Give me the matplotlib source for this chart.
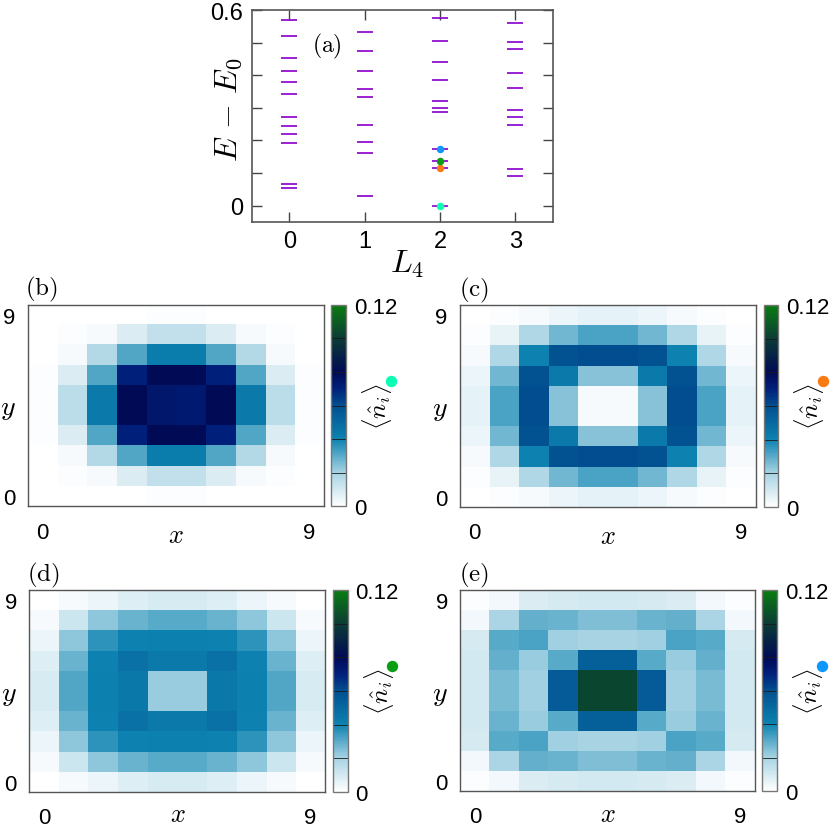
import numpy as np
import matplotlib
matplotlib.use('Agg')
import matplotlib.pyplot as plt
from matplotlib.colors import LinearSegmentedColormap, Normalize
from matplotlib.cm import ScalarMappable
from matplotlib.lines import Line2D

plt.rcParams['font.family'] = ['Liberation Sans', 'DejaVu Sans']
plt.rcParams['mathtext.fontset'] = 'cm'

# ------------------ data ------------------
L4_VALUES = [0, 1, 2, 3]
LEVELS_L0 = [0.5705, 0.520, 0.4515, 0.4115, 0.3795, 0.342, 0.2710, 0.2455, 0.2190, 0.1920, 0.0665, 0.0545]
LEVELS_L1 = [0.5325, 0.4735, 0.414, 0.359, 0.3345, 0.2485, 0.195, 0.1610, 0.0295]
LEVELS_L2 = [0.5745, 0.5060, 0.4400, 0.3855, 0.3220, 0.3000, 0.2865, 0.1730, 0.1365, 0.1170, 0.0]
LEVELS_L3 = [0.5605, 0.5010, 0.4810, 0.4080, 0.3600, 0.2945, 0.2720, 0.2485, 0.1125, 0.0900]

STATE_L4 = [2, 2, 2, 2]
STATE_E = [0.0, 0.1170, 0.1365, 0.1730]
STATE_COLORS = ['#0dfcb4', '#f97a12', '#0a9e12', '#0f98fb']

DENS_B = [
    [.0002, .0002, .0003, .0004, .0006, .0006, .0004, .0003, .0002, .0002],
    [.0002, .0006, .0020, .0080, .0140, .0140, .0080, .0020, .0006, .0002],
    [.0003, .0020, .0170, .0310, .0420, .0420, .0310, .0170, .0020, .0003],
    [.0005, .0080, .0310, .0700, .0800, .0800, .0700, .0310, .0080, .0005],
    [.0006, .0150, .0430, .0800, .0740, .0730, .0800, .0430, .0150, .0006],
    [.0006, .0150, .0430, .0800, .0740, .0730, .0800, .0430, .0150, .0006],
    [.0005, .0080, .0310, .0700, .0800, .0800, .0700, .0310, .0080, .0005],
    [.0003, .0020, .0170, .0310, .0420, .0420, .0310, .0170, .0020, .0003],
    [.0002, .0006, .0020, .0080, .0140, .0140, .0080, .0020, .0006, .0002],
    [.0002, .0002, .0003, .0004, .0006, .0006, .0004, .0003, .0002, .0002],
]
DENS_C = [
    [.0002, .0006, .0020, .0045, .0060, .0060, .0045, .0020, .0006, .0002],
    [.0006, .0055, .0180, .0270, .0320, .0320, .0270, .0180, .0055, .0006],
    [.0020, .0180, .0400, .0590, .0600, .0600, .0590, .0400, .0180, .0020],
    [.0045, .0270, .0590, .0430, .0240, .0240, .0430, .0590, .0270, .0045],
    [.0060, .0320, .0600, .0240, .0020, .0020, .0240, .0600, .0320, .0060],
    [.0060, .0320, .0600, .0240, .0020, .0020, .0240, .0600, .0320, .0060],
    [.0045, .0270, .0590, .0430, .0240, .0240, .0430, .0590, .0270, .0045],
    [.0020, .0180, .0400, .0590, .0600, .0600, .0590, .0400, .0180, .0020],
    [.0006, .0055, .0180, .0270, .0320, .0320, .0270, .0180, .0055, .0006],
    [.0002, .0006, .0020, .0045, .0060, .0060, .0045, .0020, .0006, .0002],
]
DENS_D = [
    [.0003, .0020, .0045, .0075, .0090, .0090, .0075, .0045, .0020, .0003],
    [.0020, .0115, .0230, .0280, .0300, .0300, .0280, .0230, .0115, .0020],
    [.0045, .0230, .0360, .0400, .0405, .0405, .0400, .0360, .0230, .0045],
    [.0075, .0280, .0400, .0465, .0430, .0430, .0465, .0400, .0280, .0075],
    [.0090, .0310, .0405, .0440, .0220, .0220, .0440, .0405, .0310, .0090],
    [.0090, .0310, .0405, .0440, .0220, .0220, .0440, .0405, .0310, .0090],
    [.0075, .0280, .0400, .0465, .0430, .0430, .0465, .0400, .0280, .0075],
    [.0045, .0230, .0360, .0400, .0405, .0405, .0400, .0360, .0230, .0045],
    [.0020, .0115, .0230, .0280, .0300, .0300, .0280, .0230, .0115, .0020],
    [.0003, .0020, .0045, .0075, .0090, .0090, .0075, .0045, .0020, .0003],
]
DENS_E = [
    [.0006, .0030, .0080, .0095, .0100, .0100, .0095, .0080, .0030, .0006],
    [.0030, .0190, .0290, .0280, .0250, .0250, .0280, .0290, .0190, .0030],
    [.0095, .0300, .0320, .0210, .0200, .0200, .0210, .0320, .0300, .0095],
    [.0100, .0280, .0220, .0300, .0530, .0530, .0300, .0220, .0280, .0100],
    [.0100, .0260, .0210, .0550, .1030, .1030, .0550, .0210, .0260, .0100],
    [.0100, .0260, .0210, .0550, .1030, .1030, .0550, .0210, .0260, .0100],
    [.0100, .0290, .0220, .0300, .0530, .0530, .0300, .0220, .0290, .0100],
    [.0095, .0300, .0320, .0210, .0200, .0200, .0210, .0320, .0300, .0095],
    [.0030, .0190, .0290, .0280, .0250, .0250, .0280, .0290, .0190, .0030],
    [.0006, .0030, .0080, .0095, .0100, .0100, .0095, .0080, .0030, .0006],
]

CMAP_STOPS = [0.0, 1/6, 2/6, 3/6, 7/12, 4/6, 5/6, 1.0]
CMAP_COLORS = ['#ffffff', '#a6d3e3', '#0d82b0', '#024f90', '#00207c', '#000a55', '#0b3b36', '#0a7d10']
CBAR_LINES = [0.02, 0.04, 0.06, 0.08, 0.10]

# ------------------ layout (pixels) ------------------
W, H = 830, 829
GRAY = '#555555'
# label, data, axes l/r/t/b, colorbar l/r, state colour index
PANELS = [
    ('(b)', DENS_B, (27.5, 323.7, 305.7, 507.3), (331.0, 346.0), 0),
    ('(c)', DENS_C, (460.0, 755.7, 306.0, 508.0), (763.7, 778.3), 1),
    ('(d)', DENS_D, (29.3, 325.3, 591.3, 792.7), (332.7, 347.7), 2),
    ('(e)', DENS_E, (460.3, 754.7, 591.3, 792.0), (762.3, 777.0), 3),
]


def px_axes(fig, l, r, t, b):
    return fig.add_axes([l / W, 1 - b / H, (r - l) / W, (b - t) / H])


def px_text(fig, x, y, s, **kw):
    kw.setdefault('ha', 'center')
    kw.setdefault('va', 'center')
    return fig.text(x / W, 1 - y / H, s, **kw)


def style_spines(ax, width=1.0):
    for sp in ax.spines.values():
        sp.set_color(GRAY)
        sp.set_linewidth(width)


def draw_spectrum(fig):
    ax = px_axes(fig, 251.5, 553.0, 11.0, 223.0)
    for L, levels in zip(L4_VALUES, [LEVELS_L0, LEVELS_L1, LEVELS_L2, LEVELS_L3]):
        ax.plot([L] * len(levels), levels, ls='none', marker='_', ms=11.5, mew=1.3,
                color='#8f10d0', zorder=2)
    for L, e, c in zip(STATE_L4, STATE_E, STATE_COLORS):
        ax.plot([L], [e], ls='none', marker='o', ms=5.4, mew=0, color=c, zorder=3)
    ax.set_xlim(-0.5, 3.5)
    ax.set_ylim(-0.05, 0.6)
    ax.set_xticks(L4_VALUES)
    ax.set_yticks(np.arange(0, 0.61, 0.1))
    ax.set_yticklabels(['0', '', '', '', '', '', '0.6'])
    ax.tick_params(direction='in', length=7, width=1.0, color='#444444', top=True, right=True,
                   labelsize=17, pad=6)
    style_spines(ax, 1.2)
    px_text(fig, 229, 110, r'$E\,-\,E_0$', fontsize=23, rotation=90)
    px_text(fig, 407, 264, r'$L_4$', fontsize=23)
    px_text(fig, 327, 46, r'$\mathrm{(a)}$', fontsize=17)


def draw_density(fig, cmap, norm, label, dens, box, cbox, state):
    l, r, t, b = box
    ax = px_axes(fig, l, r, t, b)
    ax.imshow(np.array(dens), cmap=cmap, norm=norm, origin='lower', aspect='auto',
              interpolation='nearest')
    ax.set_xticks([0, 9])
    ax.set_yticks([0, 9])
    ax.tick_params(length=0, labelsize=16)
    ax.tick_params(axis='x', pad=11)
    ax.tick_params(axis='y', pad=9)
    style_spines(ax)

    cax = px_axes(fig, cbox[0], cbox[1], t, b)
    cb = fig.colorbar(ScalarMappable(norm=norm, cmap=cmap), cax=cax)
    cb.set_ticks([0, 0.12])
    cb.set_ticklabels(['0', '0.12'])
    cb.ax.tick_params(length=0, labelsize=16, pad=5.5)
    cb.outline.set_edgecolor('#777777')
    cb.outline.set_linewidth(1.0)
    for v in CBAR_LINES:
        cb.ax.axhline(v, color='#1a1a1a', lw=0.6)

    px_text(fig, l + 14, t - 16, r'$\mathrm{%s}$' % label, fontsize=18)
    px_text(fig, l - 20, (t + b) / 2 + 3, r'$y$', fontsize=20)
    # bottom row sits against the figure edge, keep its x inside
    px_text(fig, (l + r) / 2 + 0.5, min(b + 29, 815.5), r'$x$', fontsize=19)
    px_text(fig, cbox[1] + 31, (t + b) / 2, r'$\langle \hat{n}_i \rangle$', fontsize=18, rotation=90)
    fig.add_artist(Line2D([(cbox[1] + 44.5) / W], [1 - (t + 76) / H], transform=fig.transFigure,
                          marker='o', ms=8.2, mew=0, color=STATE_COLORS[state]))


def main():
    fig = plt.figure(figsize=(W / 100, H / 100), dpi=100)
    cmap = LinearSegmentedColormap.from_list('dens', list(zip(CMAP_STOPS, CMAP_COLORS)), N=256)
    norm = Normalize(0, 0.12)
    draw_spectrum(fig)
    for label, dens, box, cbox, state in PANELS:
        draw_density(fig, cmap, norm, label, dens, box, cbox, state)
    fig.savefig('out.png', dpi=100)


if __name__ == "__main__":
    main()
